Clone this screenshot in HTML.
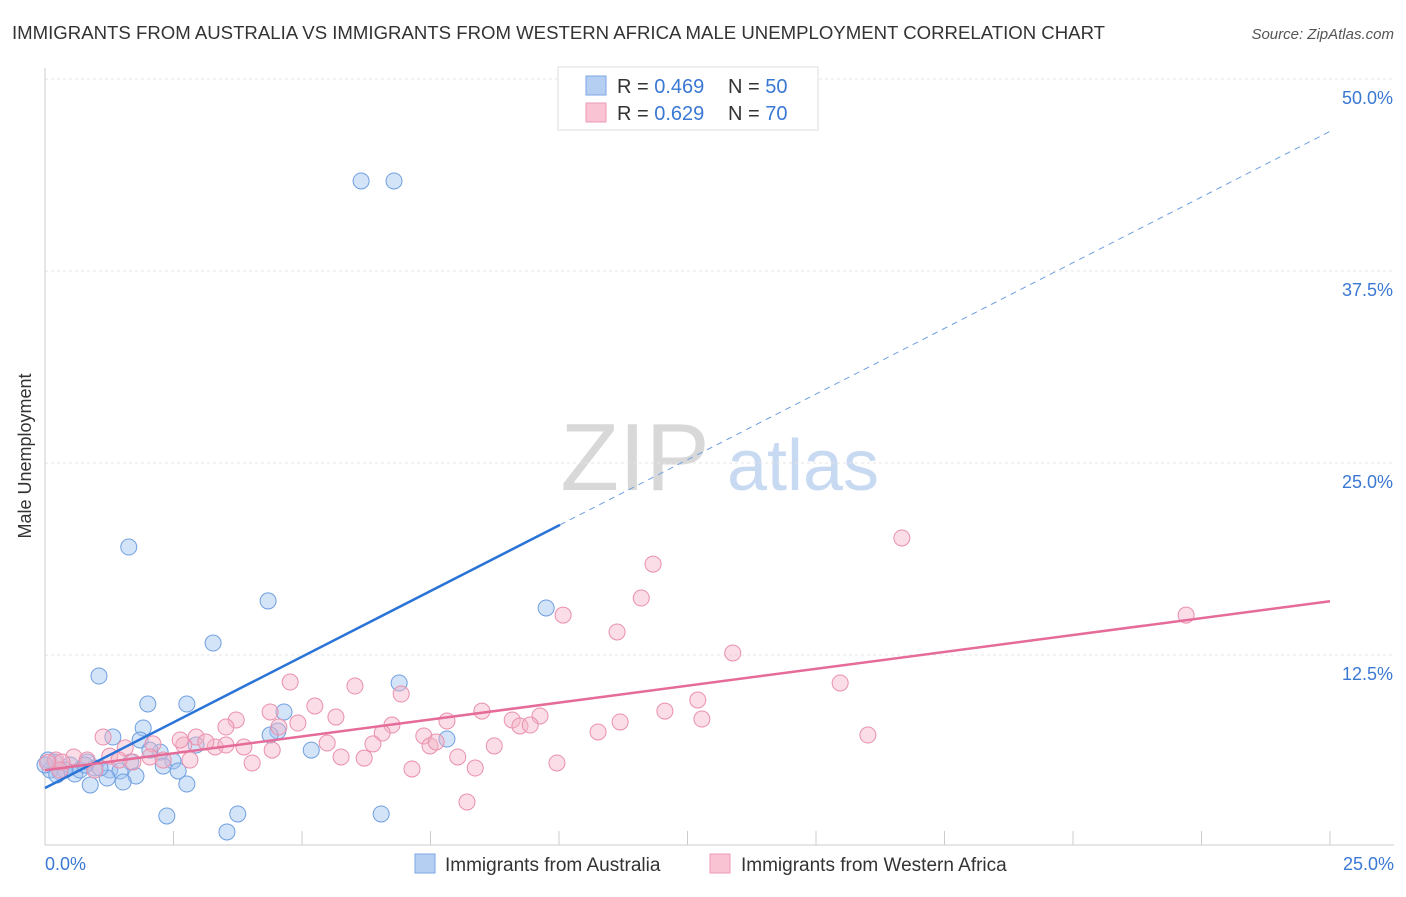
<!DOCTYPE html>
<html><head><meta charset="utf-8"><style>
body{margin:0;background:#fff;font-family:"Liberation Sans",sans-serif;}
svg text{font-family:"Liberation Sans",sans-serif;}
</style></head><body>
<svg id="chart" width="1406" height="892" xmlns="http://www.w3.org/2000/svg">
<text x="12" y="39" font-size="18.6" fill="#333">IMMIGRANTS FROM AUSTRALIA VS IMMIGRANTS FROM WESTERN AFRICA MALE UNEMPLOYMENT CORRELATION CHART</text>
<text x="1394" y="39" font-size="15" fill="#555" font-style="italic" text-anchor="end">Source: ZipAtlas.com</text>
<text x="31" y="456" font-size="18" fill="#333" text-anchor="middle" transform="rotate(-90 31 456)">Male Unemployment</text>
<g>
<text x="635" y="490" font-size="96" fill="#d8d8d8" font-family="Liberation Serif" text-anchor="middle">ZIP</text>
<text x="803" y="490" font-size="72" fill="#c8daf2" text-anchor="middle">atlas</text>
</g>
<g id="grid"></g><g id="axes"></g><g id="marks"></g>
<g>
<rect x="558" y="67" width="260" height="63" fill="#fff" stroke="#ddd"/>
<rect x="586" y="76" width="20" height="19" fill="#b5cff3" stroke="#7ba7e3"/>
<rect x="586" y="103" width="20" height="19" fill="#f9c3d3" stroke="#ec9ab5"/>
<text x="617" y="93" font-size="20" fill="#333">R = <tspan fill="#3a78d4">0.469</tspan></text>
<text x="728" y="93" font-size="20" fill="#333">N = <tspan fill="#3a78d4">50</tspan></text>
<text x="617" y="120" font-size="20" fill="#333">R = <tspan fill="#3a78d4">0.629</tspan></text>
<text x="728" y="120" font-size="20" fill="#333">N = <tspan fill="#3a78d4">70</tspan></text>
</g>
<g>
<rect x="415" y="854" width="20" height="19" fill="#b5cff3" stroke="#7ba7e3"/>
<text x="445" y="871" font-size="19" fill="#333">Immigrants from Australia</text>
<rect x="710" y="854" width="20" height="19" fill="#f9c3d3" stroke="#ec9ab5"/>
<text x="741" y="871" font-size="19" fill="#333">Immigrants from Western Africa</text>
</g>
</svg>
<script>
const xTicks=[0,2.5,5,7.5,10,12.5,15,17.5,20,22.5,25];
const yTicks=[12.5,25,37.5,50];
const yTickLabels=["12.5%","25.0%","37.5%","50.0%"];
const xEndLabels=["0.0%","25.0%"];
const blueX=[6.15,6.79,1.63,4.34,9.75,3.27,1.05,6.89,2.00,2.76,4.65,1.91,1.32,4.53,7.82,1.85,2.94,5.18,2.24,2.49,2.30,1.67,0.19,0.49,0.82,0.97,1.26,1.46,1.77,2.59,1.21,1.52,0.88,2.76,0.29,0.10,0.58,0.06,2.37,3.75,6.54,3.54,0.39,0.68,1.07,2.04,4.38,0.78,0.23,0.0];
const blueY=[43.36,43.36,19.53,16.02,15.56,13.28,11.13,10.68,9.31,9.31,8.79,7.75,7.16,7.55,7.03,6.97,6.64,6.31,6.18,5.60,5.27,5.53,5.53,5.34,5.53,5.14,5.01,4.95,4.62,4.95,4.49,4.23,4.04,4.10,4.88,5.01,4.75,5.66,2.02,2.15,2.15,0.98,5.01,5.01,5.14,6.31,7.29,5.34,4.69,5.34];
const pinkX=[16.67,11.83,11.60,10.08,22.20,11.13,13.38,4.77,6.03,6.93,15.47,5.25,12.70,3.72,3.52,4.38,8.50,12.06,5.66,4.92,7.82,9.09,9.63,12.78,9.24,9.44,11.19,6.75,4.55,6.56,16.01,10.76,2.94,1.13,2.70,3.87,5.49,6.38,7.37,7.49,8.74,2.10,3.31,4.42,1.56,2.04,1.26,0.56,0.82,1.71,2.82,2.30,4.03,6.21,8.03,5.76,9.96,7.14,8.37,8.21,0.21,0.33,0.97,1.44,3.13,3.52,7.61,2.63,0.29,0.05];
const pinkY=[20.12,18.42,16.21,15.10,15.10,14.00,12.63,10.74,10.48,9.96,10.68,9.18,9.57,8.27,7.81,8.79,8.85,8.85,8.46,8.07,8.20,8.27,8.53,8.33,7.88,7.94,8.14,7.94,7.81,7.42,7.29,7.49,7.16,7.16,6.64,6.51,6.77,6.71,7.23,6.58,6.58,6.71,6.51,6.31,6.45,5.86,5.92,5.86,5.66,5.53,5.66,5.66,5.47,5.79,5.86,5.86,5.47,5.08,5.14,2.93,5.66,5.53,5.01,5.66,6.84,6.64,6.84,6.97,5.01,5.5];
const blueFit=[3.84,1.71];   // intercept, slope
const pinkFit=[5.0,0.44];
const blueSolidEnd=10.02;

const NS="http://www.w3.org/2000/svg";
const X0=45,X1=1330,Y0=847,YS=15.36;
const sx=v=>X0+(v/25)*(X1-X0);
const sy=v=>Y0-v*YS;
function mk(tag,attrs,parent){const e=document.createElementNS(NS,tag);for(const k in attrs)e.setAttribute(k,attrs[k]);document.getElementById(parent).appendChild(e);return e;}

yTicks.forEach((t,i)=>{
  const g=mk('line',{x1:X0,x2:1394,y1:sy(t),y2:sy(t),stroke:'#e4e4e4','stroke-dasharray':'3,3'},'grid');
  
  
  const l=mk('text',{x:1393,y:sy(t)+25,'font-size':18,fill:'#3a78d4','text-anchor':'end'},'grid');
  l.textContent=yTickLabels[i];
  
  
});
const ax=mk('line',{x1:X0,x2:X0,y1:68,y2:845,stroke:'#ccc'},'axes');


const bx=mk('line',{x1:X0,x2:1394,y1:845,y2:845,stroke:'#ccc'},'axes');


xTicks.forEach(t=>{
  const k=mk('line',{x1:sx(t),x2:sx(t),y1:831,y2:845,stroke:'#ccc'},'axes');
  
  
});
[0,25].forEach((t,i)=>{
  const l=mk('text',{x:i?1394:45,y:870,'font-size':18,fill:'#3a78d4','text-anchor':i?'end':'start'},'axes');
  l.textContent=xEndLabels[i];
  
  
});
blueX.forEach((x,i)=>{
  const c=mk('circle',{cx:sx(x),cy:sy(blueY[i]),r:8,fill:'rgba(160,195,240,0.45)',stroke:'#6f9fe0','stroke-width':1},'marks');
  
  
});
pinkX.forEach((x,i)=>{
  const c=mk('circle',{cx:sx(x),cy:sy(pinkY[i]),r:8,fill:'rgba(245,180,200,0.45)',stroke:'#ea90ad','stroke-width':1},'marks');
  
  
});
const f=(p,x)=>p[0]+p[1]*x;
const b1=mk('line',{x1:sx(0),y1:sy(f(blueFit,0)),x2:sx(blueSolidEnd),y2:sy(f(blueFit,blueSolidEnd)),stroke:'#2a74d8','stroke-width':2.5},'marks');


const b2=mk('line',{x1:sx(blueSolidEnd),y1:sy(f(blueFit,blueSolidEnd)),x2:sx(25),y2:sy(f(blueFit,25)),stroke:'#6f9fe0','stroke-width':1,'stroke-dasharray':'6,5'},'marks');


const p1=mk('line',{x1:sx(0),y1:sy(f(pinkFit,0)),x2:sx(25),y2:sy(f(pinkFit,25)),stroke:'#e56b98','stroke-width':2.5},'marks');


</script>
</body></html>
